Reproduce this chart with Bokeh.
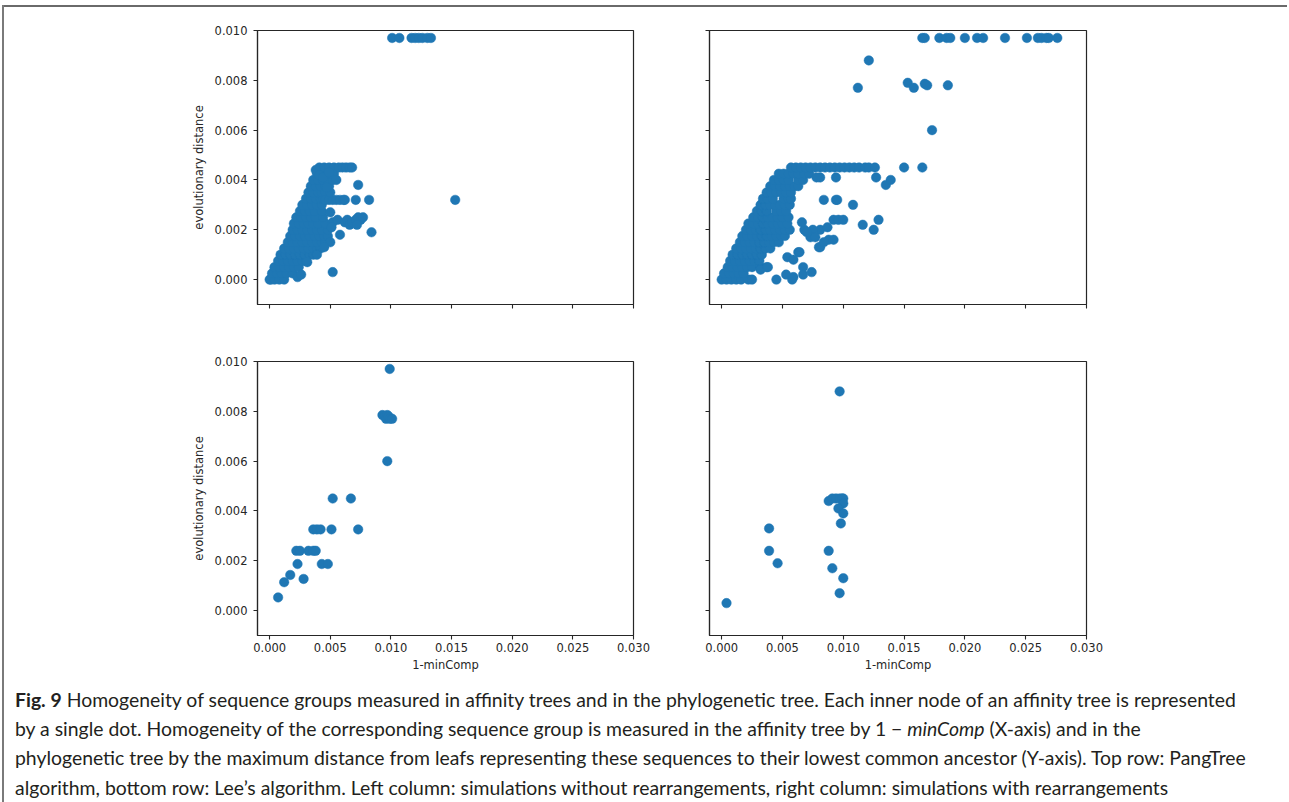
from bokeh.plotting import figure
from bokeh.models import Range1d, FixedTicker, PrintfTickFormatter, CustomJSTickFormatter, Div, Spacer, ColumnDataSource
from bokeh.layouts import column, row
from bokeh.embed import file_html
from bokeh.resources import INLINE

# ---------------- data ----------------
X_TICKS = [0.000, 0.005, 0.010, 0.015, 0.020, 0.025, 0.030]
Y_TICKS = [0.000, 0.002, 0.004, 0.006, 0.008, 0.010]
X_LABEL = "1-minComp"
Y_LABEL = "evolutionary distance"

# Top-left (PangTree, no rearrangements): dense group, row by row
tl_rows_y = [0.0000, 0.00025, 0.0005, 0.00075, 0.0010, 0.00125, 0.0015, 0.00175, 0.0020,
             0.00225, 0.0025, 0.00275, 0.0030, 0.00325, 0.0035, 0.00375, 0.0040, 0.00425, 0.0045]
tl_rows_x = [
    [0.0000, 0.0001, 0.0004, 0.0008, 0.0012],
    [0.0002, 0.0006, 0.0010, 0.0014, 0.0019],
    [0.0004, 0.0008, 0.0012, 0.0016, 0.0020, 0.0024],
    [0.0007, 0.0011, 0.0015, 0.0019, 0.0023, 0.0027, 0.0030],
    [0.0009, 0.0013, 0.0017, 0.0021, 0.0025, 0.0029, 0.0033, 0.0036],
    [0.0012, 0.0016, 0.0020, 0.0024, 0.0028, 0.0032, 0.0036, 0.0039, 0.0042],
    [0.0015, 0.0019, 0.0023, 0.0027, 0.0031, 0.0035, 0.0039, 0.0043, 0.0046],
    [0.0017, 0.0021, 0.0025, 0.0029, 0.0033, 0.0037, 0.0041, 0.0045, 0.0048],
    [0.0019, 0.0023, 0.0027, 0.0031, 0.0035, 0.0039, 0.0043, 0.0048],
    [0.0020, 0.0024, 0.0028, 0.0032, 0.0036, 0.0040, 0.0046],
    [0.0022, 0.0026, 0.0030, 0.0034, 0.0038, 0.0044],
    [0.0025, 0.0029, 0.0033, 0.0037, 0.0043],
    [0.0027, 0.0031, 0.0035, 0.0039, 0.0043],
    [0.0030, 0.0034, 0.0038, 0.0042, 0.0044],
    [0.0032, 0.0036, 0.0040, 0.0043, 0.0046],
    [0.0034, 0.0038, 0.0042, 0.0046, 0.0049],
    [0.0036, 0.0040, 0.0044, 0.0048, 0.0052],
    [0.0039, 0.0043, 0.0047, 0.0050, 0.0053],
    [0.0041, 0.0045, 0.0049, 0.0053, 0.0057, 0.0060, 0.0063, 0.0066, 0.0068],
]
tl_extra_x = [0.0101, 0.0107, 0.0117, 0.0120, 0.0123, 0.0126, 0.0130, 0.0133,
              0.0153,
              0.0046, 0.0049, 0.0052, 0.0055, 0.0058, 0.0061, 0.0062, 0.0071, 0.0082,
              0.0052, 0.0056, 0.0062, 0.0064, 0.0066, 0.0068, 0.0071, 0.0073, 0.0075, 0.0077, 0.0072,
              0.0073, 0.0058, 0.0084, 0.0052, 0.0039, 0.0031, 0.0055, 0.0050, 0.0051, 0.0050,
              0.0045, 0.0050, 0.0038, 0.0041, 0.0044, 0.0023, 0.0026, 0.0047, 0.0049]
tl_extra_y = [0.0097, 0.0097, 0.0097, 0.0097, 0.0097, 0.0097, 0.0097, 0.0097,
              0.0032,
              0.0032, 0.0032, 0.0032, 0.0032, 0.0032, 0.0032, 0.0032, 0.0032, 0.0032,
              0.0023, 0.0024, 0.0023, 0.0024, 0.0022, 0.0023, 0.0024, 0.0025, 0.0024, 0.0025, 0.0022,
              0.0038, 0.0018, 0.0019, 0.0003, 0.0010, 0.0007, 0.0040, 0.0035, 0.0021, 0.0015,
              0.0013, 0.0027, 0.0044, 0.0042, 0.0041, 0.0001, 0.0002, 0.0037, 0.0043]

# Top-right (PangTree, with rearrangements)
tr_rows_y = [0.0000, 0.00025, 0.0005, 0.00075, 0.0010, 0.00125, 0.0015, 0.00175, 0.0020,
             0.00225, 0.0025, 0.00275, 0.0030, 0.00325, 0.0035, 0.00375, 0.0040, 0.00425, 0.0045]
tr_rows_x = [
    [0.0000, 0.0004, 0.0008, 0.0012, 0.0016, 0.0022, 0.0025],
    [0.0002, 0.0006, 0.0010, 0.0014, 0.0018],
    [0.0005, 0.0009, 0.0013, 0.0017, 0.0021, 0.0025, 0.0032, 0.0037],
    [0.0007, 0.0011, 0.0015, 0.0019, 0.0023, 0.0027, 0.0031],
    [0.0009, 0.0013, 0.0017, 0.0021, 0.0025, 0.0029, 0.0033],
    [0.0012, 0.0016, 0.0020, 0.0024, 0.0028, 0.0032, 0.0036, 0.0040],
    [0.0015, 0.0019, 0.0023, 0.0027, 0.0031, 0.0035, 0.0039, 0.0043, 0.0047],
    [0.0017, 0.0021, 0.0025, 0.0029, 0.0033, 0.0037, 0.0041, 0.0045, 0.0049, 0.0052],
    [0.0020, 0.0024, 0.0028, 0.0032, 0.0036, 0.0040, 0.0044, 0.0048, 0.0052, 0.0056],
    [0.0022, 0.0026, 0.0030, 0.0034, 0.0038, 0.0042, 0.0046, 0.0050, 0.0054],
    [0.0026, 0.0030, 0.0034, 0.0038, 0.0042, 0.0046, 0.0050, 0.0055],
    [0.0029, 0.0033, 0.0037, 0.0045, 0.0049, 0.0053],
    [0.0032, 0.0036, 0.0040, 0.0044, 0.0048, 0.0052, 0.0056],
    [0.0034, 0.0038, 0.0042, 0.0051, 0.0055, 0.0057],
    [0.0037, 0.0041, 0.0045, 0.0049, 0.0053, 0.0057],
    [0.0040, 0.0044, 0.0048, 0.0052, 0.0056, 0.0060, 0.0063],
    [0.0043, 0.0047, 0.0051, 0.0055, 0.0063, 0.0067],
    [0.0047, 0.0051, 0.0055, 0.0059, 0.0063, 0.0068, 0.0072],
    [0.0057, 0.0061, 0.0065, 0.0069, 0.0073, 0.0077, 0.0081, 0.0085, 0.0089, 0.0093,
     0.0097, 0.0101, 0.0105, 0.0109, 0.0113, 0.0118, 0.0121, 0.0126],
]
tr_extra_x = [0.0165, 0.0167, 0.0179, 0.0185, 0.0188, 0.0200, 0.0210, 0.0215, 0.0233,
              0.0251, 0.0260, 0.0263, 0.0267, 0.0269, 0.0276,
              0.0121, 0.0112, 0.0153, 0.0158, 0.0167, 0.0169, 0.0186, 0.0173,
              0.0150, 0.0165,
              0.0081, 0.0094, 0.0127, 0.0135, 0.0139, 0.0078,
              0.0084, 0.0094, 0.0095, 0.0108,
              0.0092, 0.0096, 0.0100, 0.0129, 0.0116, 0.0125,
              0.0081, 0.0087, 0.0088, 0.0092, 0.0081,
              0.0068, 0.0075, 0.0073, 0.0080, 0.0066, 0.0070, 0.0077, 0.0084,
              0.0054, 0.0063, 0.0059, 0.0064,
              0.0045, 0.0053, 0.0058, 0.0059, 0.0067, 0.0067, 0.0074, 0.0032, 0.0038]
tr_extra_y = [0.0097, 0.0097, 0.0097, 0.0097, 0.0097, 0.0097, 0.0097, 0.0097, 0.0097,
              0.0097, 0.0097, 0.0097, 0.0097, 0.0097, 0.0097,
              0.0088, 0.0077, 0.0079, 0.0077, 0.00786, 0.0078, 0.0078, 0.0060,
              0.0045, 0.0045,
              0.0041, 0.0041, 0.0041, 0.0038, 0.0040, 0.0041,
              0.0032, 0.0032, 0.0032, 0.0030,
              0.0024, 0.0024, 0.0024, 0.0024, 0.0022, 0.0020,
              0.0020, 0.0021, 0.0016, 0.0016, 0.0013,
              0.0020, 0.0020, 0.0017, 0.0013, 0.0023, 0.0019, 0.0017, 0.0015,
              0.0009, 0.0011, 0.0008, 0.0011,
              0.0000, 0.0002, 0.0000, 0.0001, 0.0005, 0.0002, 0.0003, 0.0004, 0.0005]

# Bottom-left (Lee's algorithm, no rearrangements)
bl_x = [0.0099, 0.0093, 0.0095, 0.0096, 0.0097, 0.0098, 0.0099, 0.0101, 0.0097,
        0.0052, 0.0067, 0.0073, 0.0051, 0.0036, 0.0039, 0.0042,
        0.0022, 0.0025, 0.0032, 0.0036, 0.0038, 0.0023, 0.0043, 0.0048,
        0.0017, 0.0012, 0.0028, 0.0007]
bl_y = [0.0097, 0.00785, 0.0078, 0.0077, 0.00785, 0.0078, 0.0077, 0.0077, 0.0060,
        0.0045, 0.0045, 0.00326, 0.00326, 0.00326, 0.00326, 0.00326,
        0.0024, 0.0024, 0.0024, 0.0024, 0.0024, 0.00187, 0.00187, 0.00187,
        0.00143, 0.00114, 0.00127, 0.00053]

# Bottom-right (Lee's algorithm, with rearrangements)
br_x = [0.0097, 0.0088, 0.0091, 0.0094, 0.0097, 0.0099, 0.0100, 0.0100, 0.0096, 0.0100,
        0.0098, 0.0039, 0.0039, 0.0046, 0.0088, 0.0091, 0.0100, 0.0097, 0.0004]
br_y = [0.0088, 0.0044, 0.0045, 0.0045, 0.0045, 0.0045, 0.0045, 0.0043, 0.0041, 0.0039,
        0.0035, 0.0033, 0.0024, 0.0019, 0.0024, 0.0017, 0.0013, 0.0007, 0.0003]

CAPTION_LINES = [
    "<b>Fig. 9</b> Homogeneity of sequence groups measured in affinity trees and in the phylogenetic tree. Each inner node of an affinity tree is represented",
    "by a single dot. Homogeneity of the corresponding sequence group is measured in the affinity tree by 1 \u2212 <i>minComp</i> (X-axis) and in the",
    "phylogenetic tree by the maximum distance from leafs representing these sequences to their lowest common ancestor (Y-axis). Top row: PangTree",
    "algorithm, bottom row: Lee\u2019s algorithm. Left column: simulations without rearrangements, right column: simulations with rearrangements",
]

# ---------------- helpers ----------------
def flatten(rows_y, rows_x, ex, ey):
    xs, ys = [], []
    for yv, row_x in zip(rows_y, rows_x):
        for xv in row_x:
            xs.append(xv)
            ys.append(yv)
    return xs + list(ex), ys + list(ey)

DOT = "#1f77b4"
INK = "#262626"
FRAME_W_L, FRAME_W_R, FRAME_H = 376, 377, 274

def panel(xs, ys, left, right, top, bottom, frame_w, xlabels, ylabels):
    p = figure(width=left + frame_w + right, height=top + FRAME_H + bottom,
               x_range=Range1d(-0.001, 0.030), y_range=Range1d(-0.001, 0.010),
               output_backend="svg", toolbar_location=None,
               min_border_left=left, min_border_right=right,
               min_border_top=top, min_border_bottom=bottom)
    p.background_fill_color = "white"
    p.border_fill_color = "white"
    p.outline_line_color = INK
    p.outline_line_width = 1.2
    p.xgrid.visible = False
    p.ygrid.visible = False
    src = ColumnDataSource(dict(x=xs, y=ys))
    p.scatter("x", "y", source=src, size=9.5, fill_color=DOT, line_color=DOT, line_width=0.5)
    for ax, ticks, show in ((p.xaxis[0], X_TICKS, xlabels), (p.yaxis[0], Y_TICKS, ylabels)):
        ax.ticker = FixedTicker(ticks=ticks, minor_ticks=[])
        ax.major_tick_in = 0
        ax.major_tick_out = 4
        ax.minor_tick_in = 0
        ax.minor_tick_out = 0
        ax.axis_line_color = INK
        ax.axis_line_width = 1.2
        ax.major_tick_line_color = INK
        ax.major_tick_line_width = 1.1
        ax.major_label_text_font = "DejaVu Sans"
        ax.major_label_text_font_size = "11.5px"
        ax.major_label_text_color = INK
        ax.axis_label_text_font = "DejaVu Sans"
        ax.axis_label_text_font_size = "11.5px"
        ax.axis_label_text_font_style = "normal"
        ax.axis_label_text_color = INK
        if show:
            ax.formatter = PrintfTickFormatter(format="%.3f")
        else:
            ax.formatter = CustomJSTickFormatter(code="return ''")
            ax.major_label_standoff = 0
    p.xaxis[0].major_label_standoff = 3 if xlabels else 0
    p.yaxis[0].major_label_standoff = 6 if ylabels else 0
    if xlabels:
        p.xaxis[0].axis_label = X_LABEL
        p.xaxis[0].axis_label_standoff = 3
    if ylabels:
        p.yaxis[0].axis_label = Y_LABEL
        p.yaxis[0].axis_label_standoff = 6
    return p

tlx, tly = flatten(tl_rows_y, tl_rows_x, tl_extra_x, tl_extra_y)
trx, try_ = flatten(tr_rows_y, tr_rows_x, tr_extra_x, tr_extra_y)

tl = panel(tlx, tly, 80, 56, 23, 27, FRAME_W_L, False, True)
tr = panel(trx, try_, 20, 25, 23, 27, FRAME_W_R, False, False)
bl = panel(bl_x, bl_y, 80, 56, 30, 50, FRAME_W_L, True, True)
br = panel(br_x, br_y, 20, 25, 30, 50, FRAME_W_R, True, False)

# box frame of the figure page: left rule and top rule
left_bar = row(Spacer(width=2, height=802, margin=0),
               column(Spacer(width=2, height=5, margin=0),
                      Spacer(width=2, height=797, margin=0, background="#7a7a7a")))
top_line = column(Spacer(width=1285, height=5, margin=0),
                  Spacer(width=1283, height=2, margin=0, background="#6a6a6a"))

caption_html = ('<div style="padding:0 0 0 11px;font-family:Lato;font-size:19.4px;line-height:29.2px;'
                'color:#231f20;white-space:nowrap">' + "<br>".join(CAPTION_LINES) + '</div>')
caption = Div(text=caption_html, width=1285, height=117, margin=0)

row1 = row(Spacer(width=173, height=324, margin=0), tl, tr)
row2 = row(Spacer(width=173, height=354, margin=0), bl, br)
layout = row(left_bar, column(top_line, row1, row2, caption))

open("out.html", "w").write(file_html(layout, INLINE))
